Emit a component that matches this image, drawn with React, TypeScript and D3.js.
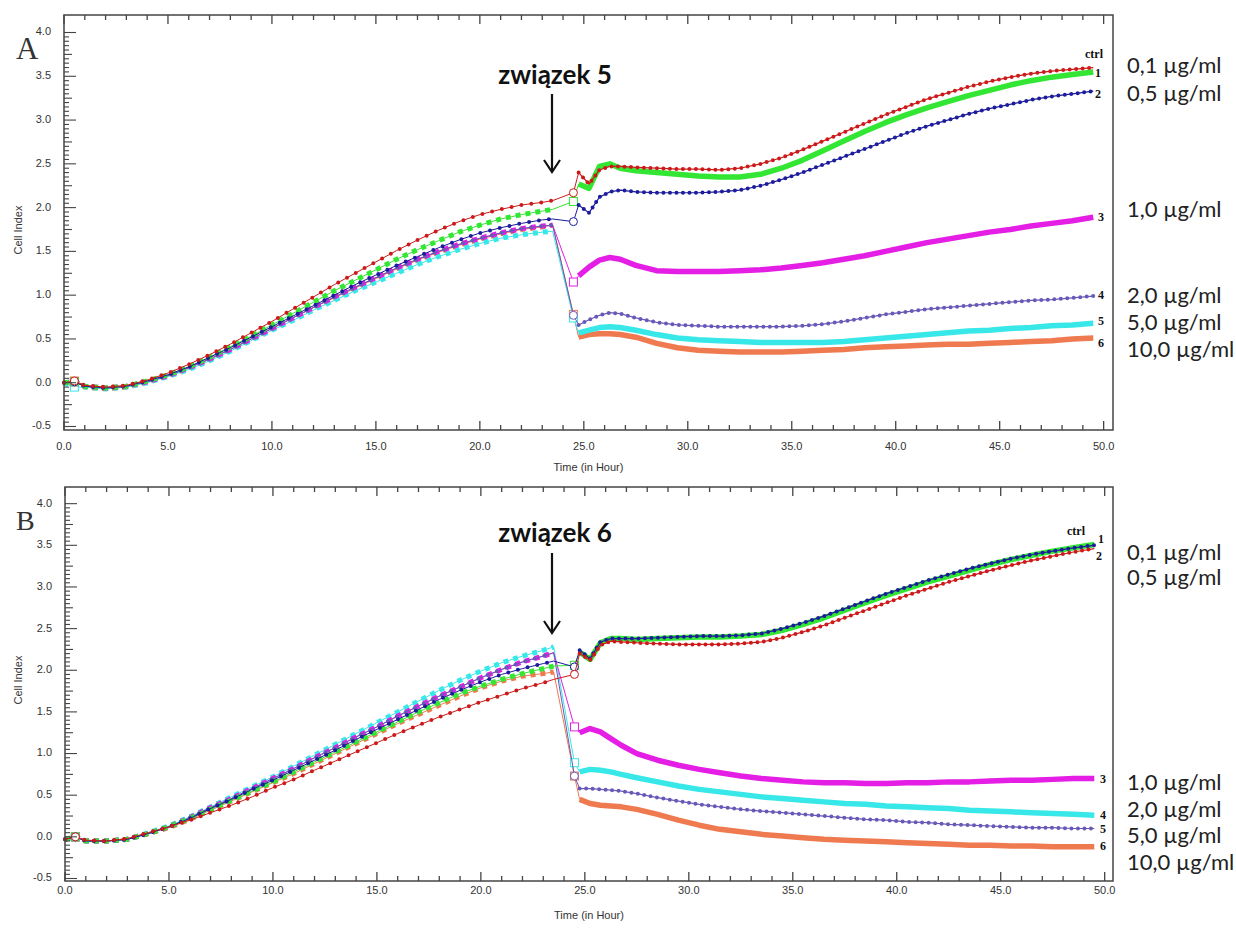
import React from "react";
import * as d3 from "d3";

// time points (hours); index 1 and 26 are the open "event" markers
const T = [0, 0.5, 1, 2, 3, 4, 5, 6, 7, 8, 9, 10, 11, 12, 13, 14, 15, 16, 17, 18, 19, 20, 21, 22, 23, 23.5,
  24.5,
  24.75, 25.25, 25.75, 26.25, 26.75, 27.5, 28.5, 29.5, 30.5, 31.5, 32.5, 33.5, 34.5, 35.5, 36.5, 37.5, 38.5,
  39.5, 40.5, 41.5, 42.5, 43.5, 44.5, 45.5, 46.5, 47.5, 48.5, 49.5];

// panel A (związek 5)
const A_CTRL = [0.0, 0.02, -0.03, -0.05, -0.03, 0.03, 0.11, 0.21, 0.32, 0.44, 0.57, 0.70, 0.84, 0.98, 1.12, 1.25, 1.38, 1.51, 1.63, 1.74, 1.84, 1.92, 1.98, 2.03, 2.06, 2.08,
  2.17,
  2.40, 2.27, 2.43, 2.47, 2.47, 2.46, 2.45, 2.44, 2.44, 2.43, 2.45, 2.50, 2.57, 2.66, 2.76, 2.86, 2.96, 3.06, 3.15, 3.24, 3.31, 3.38, 3.44, 3.49, 3.53, 3.56, 3.58, 3.60];
const A_1 = [0.0, 0.01, -0.04, -0.06, -0.04, 0.02, 0.09, 0.18, 0.29, 0.41, 0.53, 0.66, 0.79, 0.92, 1.05, 1.17, 1.29, 1.41, 1.52, 1.62, 1.72, 1.80, 1.87, 1.92, 1.96, 1.98,
  2.07,
  2.27, 2.22, 2.47, 2.50, 2.45, 2.42, 2.40, 2.38, 2.36, 2.35, 2.35, 2.38, 2.45, 2.54, 2.65, 2.76, 2.87, 2.97, 3.06, 3.14, 3.21, 3.28, 3.34, 3.40, 3.45, 3.49, 3.52, 3.55];
const A_2 = [0.0, 0.01, -0.04, -0.06, -0.04, 0.02, 0.09, 0.18, 0.29, 0.40, 0.52, 0.64, 0.76, 0.88, 1.00, 1.12, 1.23, 1.34, 1.44, 1.54, 1.63, 1.71, 1.77, 1.82, 1.86, 1.87,
  1.84,
  2.03, 1.94, 2.12, 2.18, 2.20, 2.18, 2.17, 2.17, 2.17, 2.18, 2.20, 2.25, 2.32, 2.40, 2.49, 2.58, 2.67, 2.76, 2.85, 2.93, 3.00, 3.07, 3.13, 3.18, 3.23, 3.27, 3.30, 3.33];
const A_3 = [0.0, 0.01, -0.04, -0.06, -0.04, 0.01, 0.08, 0.17, 0.27, 0.38, 0.50, 0.62, 0.74, 0.86, 0.98, 1.09, 1.20, 1.31, 1.41, 1.50, 1.58, 1.65, 1.71, 1.76, 1.79, 1.80,
  1.15,
  1.22, 1.32, 1.40, 1.43, 1.41, 1.34, 1.28, 1.27, 1.27, 1.27, 1.28, 1.29, 1.31, 1.34, 1.37, 1.41, 1.45, 1.50, 1.55, 1.60, 1.64, 1.68, 1.72, 1.75, 1.79, 1.82, 1.85, 1.89];
const A_4 = [0.0, 0.01, -0.04, -0.06, -0.04, 0.01, 0.08, 0.17, 0.27, 0.38, 0.50, 0.62, 0.74, 0.86, 0.98, 1.09, 1.20, 1.31, 1.41, 1.50, 1.58, 1.65, 1.71, 1.76, 1.79, 1.80,
  0.77,
  0.66, 0.72, 0.77, 0.80, 0.79, 0.74, 0.69, 0.66, 0.65, 0.64, 0.64, 0.64, 0.64, 0.65, 0.67, 0.70, 0.74, 0.78, 0.81, 0.84, 0.86, 0.88, 0.90, 0.92, 0.94, 0.95, 0.97, 0.99];
const A_5 = [0.0, -0.05, -0.05, -0.07, -0.05, 0.00, 0.07, 0.15, 0.25, 0.36, 0.48, 0.60, 0.71, 0.83, 0.94, 1.05, 1.15, 1.25, 1.35, 1.44, 1.52, 1.59, 1.65, 1.69, 1.72, 1.73,
  0.74,
  0.57, 0.60, 0.63, 0.64, 0.63, 0.60, 0.55, 0.51, 0.49, 0.48, 0.47, 0.46, 0.46, 0.46, 0.46, 0.47, 0.49, 0.51, 0.53, 0.55, 0.57, 0.59, 0.60, 0.62, 0.63, 0.65, 0.66, 0.68];
const A_6 = [-0.01, 0.02, -0.05, -0.07, -0.05, 0.01, 0.08, 0.17, 0.27, 0.38, 0.50, 0.62, 0.74, 0.86, 0.97, 1.08, 1.19, 1.30, 1.40, 1.49, 1.57, 1.64, 1.70, 1.75, 1.78, 1.80,
  0.78,
  0.52, 0.55, 0.56, 0.56, 0.55, 0.52, 0.45, 0.40, 0.37, 0.36, 0.35, 0.35, 0.35, 0.36, 0.37, 0.38, 0.40, 0.41, 0.42, 0.43, 0.44, 0.44, 0.45, 0.46, 0.47, 0.48, 0.50, 0.51];

// panel B (związek 6)
const B_CTRL = [-0.03, 0.0, -0.04, -0.05, -0.02, 0.05, 0.12, 0.20, 0.29, 0.38, 0.48, 0.59, 0.69, 0.80, 0.91, 1.02, 1.13, 1.24, 1.34, 1.44, 1.53, 1.62, 1.70, 1.78, 1.85, 1.89,
  1.95,
  2.20, 2.12, 2.30, 2.35, 2.34, 2.33, 2.32, 2.31, 2.31, 2.31, 2.32, 2.34, 2.39, 2.46, 2.54, 2.63, 2.72, 2.81, 2.90, 2.98, 3.06, 3.13, 3.20, 3.26, 3.32, 3.37, 3.42, 3.46];
const B_1 = [-0.03, 0.0, -0.05, -0.05, -0.03, 0.04, 0.12, 0.22, 0.33, 0.44, 0.55, 0.66, 0.78, 0.90, 1.02, 1.14, 1.26, 1.38, 1.50, 1.61, 1.72, 1.81, 1.89, 1.96, 2.02, 2.05,
  2.06,
  2.22, 2.13, 2.33, 2.38, 2.38, 2.37, 2.38, 2.39, 2.40, 2.40, 2.41, 2.43, 2.48, 2.55, 2.63, 2.72, 2.81, 2.90, 2.98, 3.06, 3.13, 3.20, 3.27, 3.33, 3.38, 3.43, 3.47, 3.51];
const B_2 = [-0.03, 0.0, -0.05, -0.05, -0.03, 0.04, 0.12, 0.22, 0.34, 0.45, 0.57, 0.68, 0.80, 0.92, 1.04, 1.17, 1.29, 1.41, 1.53, 1.65, 1.76, 1.86, 1.95, 2.02, 2.08, 2.11,
  2.04,
  2.24, 2.14, 2.34, 2.38, 2.38, 2.38, 2.39, 2.40, 2.41, 2.41, 2.42, 2.44, 2.50, 2.57, 2.65, 2.74, 2.83, 2.92, 3.00, 3.08, 3.15, 3.22, 3.28, 3.34, 3.39, 3.43, 3.47, 3.50];
const B_3 = [-0.03, 0.0, -0.05, -0.05, -0.03, 0.04, 0.12, 0.23, 0.35, 0.46, 0.58, 0.70, 0.82, 0.95, 1.07, 1.20, 1.32, 1.45, 1.57, 1.69, 1.80, 1.91, 2.01, 2.10, 2.17, 2.21,
  1.32,
  1.25, 1.30, 1.26, 1.18, 1.10, 1.00, 0.92, 0.86, 0.81, 0.77, 0.73, 0.70, 0.68, 0.66, 0.65, 0.65, 0.64, 0.64, 0.65, 0.65, 0.66, 0.66, 0.67, 0.68, 0.68, 0.69, 0.70, 0.70];
const B_4 = [-0.03, 0.0, -0.05, -0.05, -0.03, 0.05, 0.13, 0.24, 0.36, 0.48, 0.60, 0.72, 0.85, 0.98, 1.11, 1.24, 1.37, 1.50, 1.63, 1.76, 1.88, 1.99, 2.09, 2.17, 2.24, 2.28,
  0.89,
  0.78, 0.81, 0.80, 0.78, 0.75, 0.71, 0.66, 0.61, 0.57, 0.54, 0.51, 0.48, 0.46, 0.44, 0.42, 0.40, 0.39, 0.37, 0.36, 0.35, 0.34, 0.32, 0.31, 0.30, 0.29, 0.28, 0.27, 0.26];
const B_5 = [-0.03, 0.0, -0.05, -0.05, -0.03, 0.04, 0.12, 0.23, 0.35, 0.46, 0.58, 0.70, 0.82, 0.95, 1.07, 1.20, 1.32, 1.45, 1.57, 1.69, 1.80, 1.91, 2.01, 2.10, 2.17, 2.21,
  0.73,
  0.58, 0.58, 0.57, 0.56, 0.55, 0.52, 0.47, 0.43, 0.39, 0.36, 0.33, 0.31, 0.29, 0.27, 0.25, 0.23, 0.21, 0.20, 0.18, 0.17, 0.15, 0.14, 0.13, 0.12, 0.11, 0.11, 0.10, 0.10];
const B_6 = [-0.03, 0.0, -0.05, -0.05, -0.03, 0.04, 0.11, 0.21, 0.32, 0.43, 0.54, 0.65, 0.76, 0.88, 1.00, 1.12, 1.24, 1.36, 1.47, 1.58, 1.69, 1.79, 1.87, 1.93, 1.96, 1.98,
  0.73,
  0.45, 0.40, 0.38, 0.37, 0.36, 0.33, 0.27, 0.20, 0.14, 0.09, 0.06, 0.03, 0.01, -0.01, -0.03, -0.04, -0.05, -0.06, -0.07, -0.08, -0.09, -0.10, -0.10, -0.11, -0.11, -0.12, -0.12, -0.12];

const X_TICKS = [0, 5, 10, 15, 20, 25, 30, 35, 40, 45, 50];
const Y_TICKS = [-0.5, 0, 0.5, 1, 1.5, 2, 2.5, 3, 3.5, 4];
const END_LABELS = ["ctrl", "1", "2", "3", "4", "5", "6"];
const DOSES = ["0,1 µg/ml", "0,5 µg/ml", "1,0 µg/ml", "2,0 µg/ml", "5,0 µg/ml", "10,0 µg/ml"];

const COLORS = {
  red: "#cc1a1a", green: "#33e633", blue: "#1c1c9c", magenta: "#e41ee4",
  purple: "#6a58b8", cyan: "#38e8e8", orange: "#f07a50",
};

type Kind = "dot" | "square";
type S = { values: number[]; color: string; kind: Kind };

const seriesA: S[] = [
  { values: A_6, color: COLORS.orange, kind: "square" },
  { values: A_5, color: COLORS.cyan, kind: "square" },
  { values: A_3, color: COLORS.magenta, kind: "square" },
  { values: A_4, color: COLORS.purple, kind: "dot" },
  { values: A_1, color: COLORS.green, kind: "square" },
  { values: A_2, color: COLORS.blue, kind: "dot" },
  { values: A_CTRL, color: COLORS.red, kind: "dot" },
];
const seriesB: S[] = [
  { values: B_6, color: COLORS.orange, kind: "square" },
  { values: B_4, color: COLORS.cyan, kind: "square" },
  { values: B_3, color: COLORS.magenta, kind: "square" },
  { values: B_5, color: COLORS.purple, kind: "dot" },
  { values: B_1, color: COLORS.green, kind: "square" },
  { values: B_2, color: COLORS.blue, kind: "dot" },
  { values: B_CTRL, color: COLORS.red, kind: "dot" },
];

const PRE_END = 25;
const OPEN_I = 26;
const POST_START = 27;

type Cfg = {
  left: number; right: number; top: number; bottom: number; xMax: number; yMin: number;
  letter: string; letterY: number; letterSize: number;
  tickLabelGap: number; titleY: number; yLabelY: number;
  compound: string; compoundY: number; arrowTop: number; arrowTip: number;
  endLabelPos: [number, number][]; doseY: number[];
  series: S[];
};

function Panel({ c }: { c: Cfg }) {
  const x = d3.scaleLinear().domain([0, c.xMax]).range([c.left, c.right]);
  const y = d3.scaleLinear().domain([c.yMin, 4.2]).range([c.bottom, c.top]);
  const path = (vals: number[], idx: number[]) =>
    d3.line<number>().x((i) => x(T[i])).y((i) => y(vals[i]))(idx) || "";
  const pre = d3.range(0, PRE_END + 1);
  const link = [PRE_END, OPEN_I, POST_START];
  const post = d3.range(POST_START, T.length);

  const minorX = d3.range(0, 51, 1);
  const minorY = d3.range(-10, 81).map((k) => k * 0.05);

  return (
    <g>
      {/* series */}
      {c.series.map((s, k) => {
        const pPre = path(s.values, pre);
        const pLink = path(s.values, link);
        const pPost = path(s.values, post);
        const ox1 = x(T[1]), oy1 = y(s.values[1]);
        const ox2 = x(T[OPEN_I]), oy2 = y(s.values[OPEN_I]);
        return (
          <g key={k}>
            <path d={pPre} fill="none" stroke={s.color} strokeWidth={1} />
            <path d={pLink} fill="none" stroke={s.color} strokeWidth={1} />
            {s.kind === "square" ? (
              <>
                <path d={pPre} fill="none" stroke={s.color} strokeWidth={5} strokeDasharray="5 5" />
                <path d={pPost} fill="none" stroke={s.color} strokeWidth={5.5} strokeLinejoin="round" />
                <rect x={ox1 - 4} y={oy1 - 4} width={8} height={8} fill="white" stroke={s.color} strokeWidth={1} />
                <rect x={ox2 - 4} y={oy2 - 4} width={8} height={8} fill="white" stroke={s.color} strokeWidth={1} />
              </>
            ) : (
              <>
                <path d={pPost} fill="none" stroke={s.color} strokeWidth={1.2} />
                <path d={pPre} fill="none" stroke={s.color} strokeWidth={4} strokeLinecap="round" strokeDasharray="0 10" />
                <path d={pPost} fill="none" stroke={s.color} strokeWidth={4} strokeLinecap="round" strokeDasharray="0 6.5" />
                <circle cx={ox1} cy={oy1} r={4} fill="white" stroke={s.color} strokeWidth={1} />
                <circle cx={ox2} cy={oy2} r={4} fill="white" stroke={s.color} strokeWidth={1} />
              </>
            )}
          </g>
        );
      })}

      {/* frame */}
      <rect x={c.left} y={c.top} width={c.right - c.left} height={c.bottom - c.top} fill="none" stroke="#444" strokeWidth={1.5} />
      {minorX.map((v) => {
        const major = v % 5 === 0;
        return (
          <g key={"x" + v} stroke="#444" strokeWidth={1.3}>
            <line x1={x(v)} x2={x(v)} y1={c.bottom} y2={c.bottom - (major ? 9 : 5)} />
            <line x1={x(v)} x2={x(v)} y1={c.top} y2={c.top + (major ? 9 : 5)} />
          </g>
        );
      })}
      {minorY.map((v, i) => {
        const k = i - 10;
        const len = k % 10 === 0 ? 12 : k % 5 === 0 ? 8 : 5;
        return <line key={"y" + i} x1={c.left} x2={c.left + len} y1={y(v)} y2={y(v)} stroke="#444" strokeWidth={1.1} />;
      })}
      {X_TICKS.map((v) => (
        <text key={"xl" + v} x={x(v)} y={c.bottom + c.tickLabelGap} textAnchor="middle" dominantBaseline="middle"
          fontFamily="Liberation Sans, Arial, sans-serif" fontSize={11} fill="#333">{v.toFixed(1)}</text>
      ))}
      {Y_TICKS.map((v) => (
        <text key={"yl" + v} x={c.left - 13} y={y(v)} textAnchor="end" dominantBaseline="middle"
          fontFamily="Liberation Sans, Arial, sans-serif" fontSize={11} fill="#333">{v.toFixed(1)}</text>
      ))}
      <text x={(c.left + c.right) / 2} y={c.titleY} textAnchor="middle" dominantBaseline="middle"
        fontFamily="Liberation Sans, Arial, sans-serif" fontSize={11} fill="#333">Time (in Hour)</text>
      <text transform={`translate(19,${c.yLabelY}) rotate(-90)`} textAnchor="middle" dominantBaseline="middle"
        fontFamily="Liberation Sans, Arial, sans-serif" fontSize={11} fill="#333">Cell Index</text>
      <text x={16} y={c.letterY} fontFamily="Liberation Serif, serif" fontSize={c.letterSize} fill="#333">{c.letter}</text>

      {/* compound arrow */}
      <text x={555} y={c.compoundY} textAnchor="middle" fontFamily="Lato, sans-serif" fontWeight={700} fontSize={26} fill="#111">{c.compound}</text>
      <line x1={552} x2={552} y1={c.arrowTop} y2={c.arrowTip - 1} stroke="#111" strokeWidth={2.2} />
      <path d={`M${544},${c.arrowTip - 12} L552,${c.arrowTip} L${560},${c.arrowTip - 12}`} fill="none" stroke="#111" strokeWidth={2.2} />

      {/* end labels */}
      {END_LABELS.map((t, i) => (
        <text key={"e" + i} x={c.endLabelPos[i][0]} y={c.endLabelPos[i][1]} dominantBaseline="middle"
          fontFamily="Liberation Serif, serif" fontWeight={700} fontSize={12} fill="#111">{t}</text>
      ))}
      {DOSES.map((t, i) => (
        <text key={"d" + i} x={1127} y={c.doseY[i]} fontFamily="Lato, sans-serif" fontSize={22} fill="#222">{t}</text>
      ))}
    </g>
  );
}

const cfgA: Cfg = {
  left: 64, right: 1113, top: 15, bottom: 430, xMax: 50.45, yMin: -0.54,
  letter: "A", letterY: 59, letterSize: 31, tickLabelGap: 17, titleY: 468, yLabelY: 230,
  compound: "związek 5", compoundY: 84, arrowTop: 94, arrowTip: 172,
  endLabelPos: [[1085, 55], [1095, 74], [1095, 95], [1098, 218], [1098, 296], [1098, 322], [1098, 344]],
  doseY: [73, 101, 217, 303, 330, 357],
  series: seriesA,
};
const cfgB: Cfg = {
  left: 65, right: 1113, top: 487, bottom: 881, xMax: 50.4, yMin: -0.53,
  letter: "B", letterY: 530, letterSize: 28, tickLabelGap: 10, titleY: 916, yLabelY: 680,
  compound: "związek 6", compoundY: 542, arrowTop: 553, arrowTip: 633,
  endLabelPos: [[1067, 532], [1098, 540], [1096, 557], [1100, 780], [1100, 816], [1100, 830], [1100, 847]],
  doseY: [560, 585, 790, 817, 843, 870],
  series: seriesB,
};

export default function App() {
  return (
    <svg width={1236} height={928} style={{ position: "absolute", left: 0, top: 0, background: "white" }}>
      <rect width={1236} height={928} fill="white" />
      <Panel c={cfgA} />
      <Panel c={cfgB} />
    </svg>
  );
}
